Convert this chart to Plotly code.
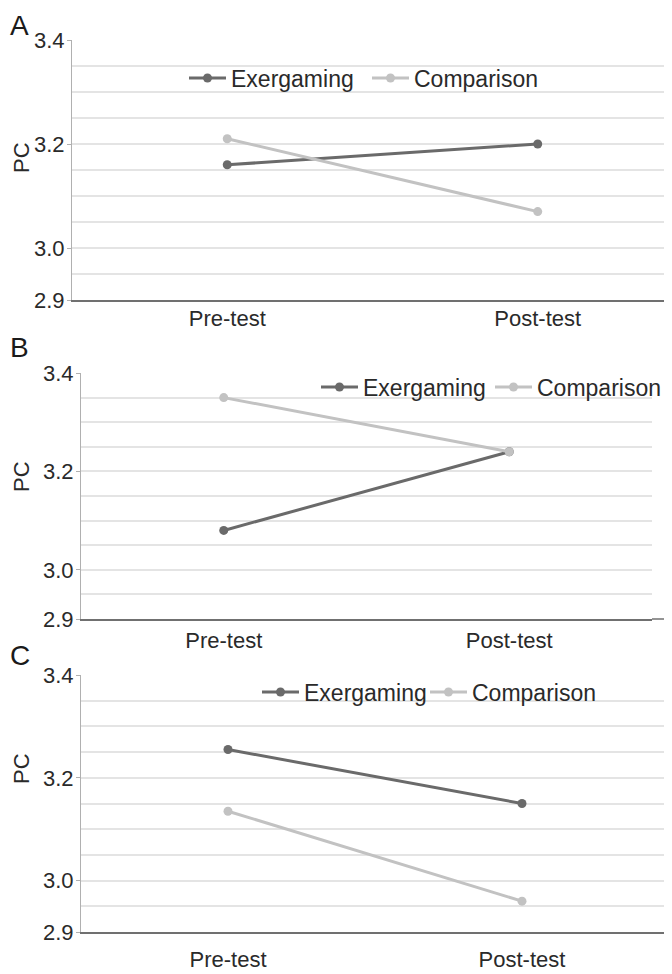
import plotly.graph_objects as go

# ---- data ----
categories = ["Pre-test", "Post-test"]
series_names = ["Exergaming", "Comparison"]
exer_A = [3.16, 3.20]
comp_A = [3.21, 3.07]
exer_B = [3.08, 3.24]
comp_B = [3.35, 3.24]
exer_C = [3.255, 3.15]
comp_C = [3.135, 2.96]
y_tickvals = [2.9, 3.0, 3.2, 3.4]
y_ticktext = ["2.9", "3.0", "3.2", "3.4"]
minor_grid = [2.95, 3.05, 3.1, 3.15, 3.25, 3.3, 3.35]
panel_labels = ["A", "B", "C"]

W, H = 672, 974
OFF = 8  # the page places the figure 8px from the window's top-left corner
EX_COL = "#6a6a6a"
CO_COL = "#c2c2c2"
TXT = "#2a2a2a"
FONT = "Liberation Sans, Arial, sans-serif"
FS = 22


def px(x):
    return (x - OFF) / W


def py(y):
    return 1 - (y - OFF) / H


panels = [
    dict(ex=exer_A, co=comp_A, xdom=[px(72), px(665)], ydom=[py(300), py(40)], xr=[-0.5, 1.41],
         leg=(190, 78), ew=131, lab=25, pc=158, stand=-2),
    dict(ex=exer_B, co=comp_B, xdom=[px(81), px(652)], ydom=[py(619), py(373)], xr=[-0.5, 1.5],
         leg=(322, 387), ew=122, lab=348, pc=477, stand=1),
    dict(ex=exer_C, co=comp_C, xdom=[px(81), px(669)], ydom=[py(932), py(675)], xr=[-0.5, 1.5],
         leg=(263, 692), ew=116, lab=655, pc=769, stand=7),
]

fig = go.Figure()
layout = dict(
    width=W, height=H, margin=dict(l=0, r=0, t=0, b=0, autoexpand=False),
    paper_bgcolor="white", plot_bgcolor="white",
    font=dict(family=FONT, size=FS, color=TXT),
    annotations=[], shapes=[],
)

for i, p in enumerate(panels):
    n = "" if i == 0 else str(i + 1)
    xa, ya = "x" + n, "y" + n
    legname = "legend" + n
    for name, vals, col, lw in [(series_names[0], p["ex"], EX_COL, p["ew"]),
                                (series_names[1], p["co"], CO_COL, 150)]:
        fig.add_trace(go.Scatter(
            x=categories, y=vals, name=name, mode="lines+markers",
            line=dict(color=col, width=3), marker=dict(color=col, size=9),
            xaxis=xa, yaxis=ya, legend=legname, legendwidth=lw,
        ))
    layout["xaxis" + n] = dict(
        domain=p["xdom"], anchor=ya, type="category", range=p["xr"],
        showgrid=False, showline=True, linecolor="#707070", linewidth=1.5,
        ticks="", tickfont=dict(size=FS, color=TXT), ticklabelstandoff=p["stand"],
        zeroline=False, automargin=False,
    )
    layout["yaxis" + n] = dict(
        domain=p["ydom"], anchor=xa, range=[2.9, 3.4],
        tickvals=y_tickvals, ticktext=y_ticktext,
        showgrid=True, gridcolor="#e4e4e4", gridwidth=1.5,
        showline=True, linecolor="#b0b0b0", linewidth=1,
        ticks="outside", ticklen=4, tickcolor="#b0b0b0", ticklabelstandoff=-2,
        tickfont=dict(size=FS, color=TXT),
        minor=dict(tickvals=minor_grid, showgrid=True, gridcolor="#e4e4e4", gridwidth=1.5, ticks=""),
        zeroline=False, automargin=False,
    )
    layout[legname] = dict(
        orientation="h", x=px(p["leg"][0] - 6), y=py(p["leg"][1]),
        xanchor="left", yanchor="middle", bgcolor="rgba(0,0,0,0)",
        font=dict(size=23, color=TXT), itemwidth=37,
    )
    layout["annotations"].append(dict(
        text=panel_labels[i], x=0, y=py(p["lab"]),
        xref="paper", yref="paper", xanchor="left", yanchor="middle",
        showarrow=False, font=dict(size=28, color="#1a1a1a"),
    ))
    layout["annotations"].append(dict(
        text="PC", x=px(21), y=py(p["pc"]), xref="paper", yref="paper",
        xanchor="center", yanchor="middle", textangle=-90,
        showarrow=False, font=dict(size=FS, color=TXT),
    ))

# panel B: the bottom axis line runs a little past the plot area
layout["shapes"].append(dict(
    type="line", xref="paper", yref="y2 domain", x0=px(652), x1=px(666), y0=0, y1=0,
    line=dict(color="#707070", width=1.5),
))

fig.update_layout(**layout)
fig.write_html("out.html")
